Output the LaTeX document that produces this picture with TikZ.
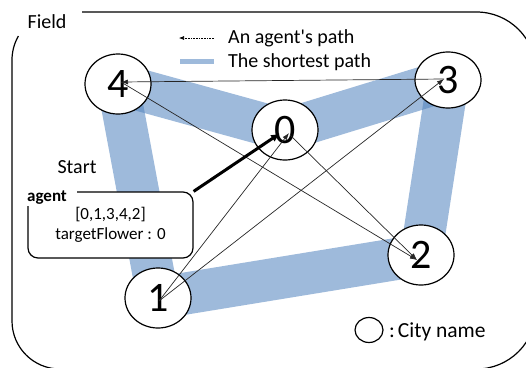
\documentclass[tikz,border=0pt]{standalone}
\usepackage{fontspec}
\setmainfont{Carlito}[Ligatures=TeXOff]
\usetikzlibrary{shapes.geometric,arrows.meta,backgrounds,calc}
\definecolor{band}{RGB}{79,129,189}
\begin{document}
\begin{tikzpicture}[x=1pt,y=-1pt,
  city/.style={ellipse, draw, line width=1.2pt, fill=white, minimum width=66pt, minimum height=60pt, inner sep=0pt, font=\fontsize{42}{42}\selectfont},
  bandline/.style={line width=42pt, draw=band, draw opacity=0.55},
  apath/.style={line width=0.7pt, draw=black!85, -{Latex[length=7pt,width=5pt]}},
  lbl/.style={font=\fontsize{20}{24}\selectfont, inner sep=0pt},
]
\useasboundingbox (0,0) rectangle (526,367);
% field frame (right side lies beyond the picture edge)
\draw[line width=1.2pt] (82,12) -- (476.5,12) arc[start angle=-90, end angle=0, radius=59.5];
\draw[line width=1.2pt] (536,309.5) arc[start angle=0, end angle=90, radius=59.5]
  -- (60,369) arc[start angle=90, end angle=180, radius=48]
  -- (12,60) arc[start angle=180, end angle=210, radius=48];
\node[lbl] (field) at (47,22) {Field};
% cities
\node[city] (c4) at (118,84) {4};
\node[city] (c0) at (285,130) {0};
\node[city, minimum height=56pt] (c3) at (448,80) {3};
\node[city] (c2) at (421,255) {2};
\node[city] (c1) at (158,298) {1};
% shortest path bands
\begin{scope}[on background layer]
\draw[bandline] (c4.center) -- (c0.center);
\draw[bandline] (c0.center) -- (c3.center);
\draw[bandline] (c3.center) -- (c2.center);
\draw[bandline] (c2.center) -- (c1.center);
\draw[bandline] (c1.center) -- (c4.center);
\end{scope}
% agent's path
\coordinate (a1) at ($(c1.center)+(1,3)$);
\coordinate (a0) at ($(c0.center)+(4,3)$);
\coordinate (a3) at ($(c3.center)+(-4,-1)$);
\coordinate (a4) at ($(c4.center)+(3,-2)$);
\coordinate (a2) at ($(c2.center)+(-4,5)$);
\coordinate (b0) at ($(c0.center)+(5,5)$);
\draw[apath] (a1) -- (a0);
\draw[apath] (a1) -- (a3);
\draw[apath] (a3) -- (a4);
\draw[apath] (a4) -- (a2);
\draw[apath] (b0) -- (a2);
% legend
\coordinate (la) at (179,38);
\coordinate (lb) at (214,38);
\draw[densely dotted, line width=0.6pt, -{Latex[length=5pt,width=4pt]}] (lb) -- (la);
\node[lbl, anchor=west] (l1) at (228,38) {An agent's path};
\coordinate (lc) at (180,61);
\coordinate (ld) at (214,61);
\draw[draw=band, draw opacity=0.55, line width=5pt] (lc) -- (ld);
\node[lbl, anchor=west] (l2) at (228,62) {The shortest path};
% agent box
\node[lbl] (start) at (77,167) {Start};
\node[draw, line width=1.2pt, rounded corners=10pt, fill=white, minimum width=165pt, minimum height=66pt, align=center, font=\fontsize{17}{20}\selectfont] (box) at (110.5,225) {[0,1,3,4,2]\\targetFlower : 0};
\node[fill=white, inner sep=0pt, anchor=north west, text width=50pt, minimum height=18pt, align=left, font=\fontsize{17}{20}\selectfont\bfseries] (agentlbl) at (27,188) {agent};
\draw[line width=3pt, -{Latex[length=9pt,width=8pt]}, shorten >=6pt] (box.north east) -- (c0.center);
% city legend
\node[ellipse, draw, line width=1.2pt, minimum width=28pt, minimum height=25pt, inner sep=0pt] (leg) at (369,330) {};
\node[lbl, anchor=west, font=\fontsize{21.5}{24}\selectfont] (legt) at (389,332) {:\hspace{3pt}City name};
\end{tikzpicture}
\end{document}
